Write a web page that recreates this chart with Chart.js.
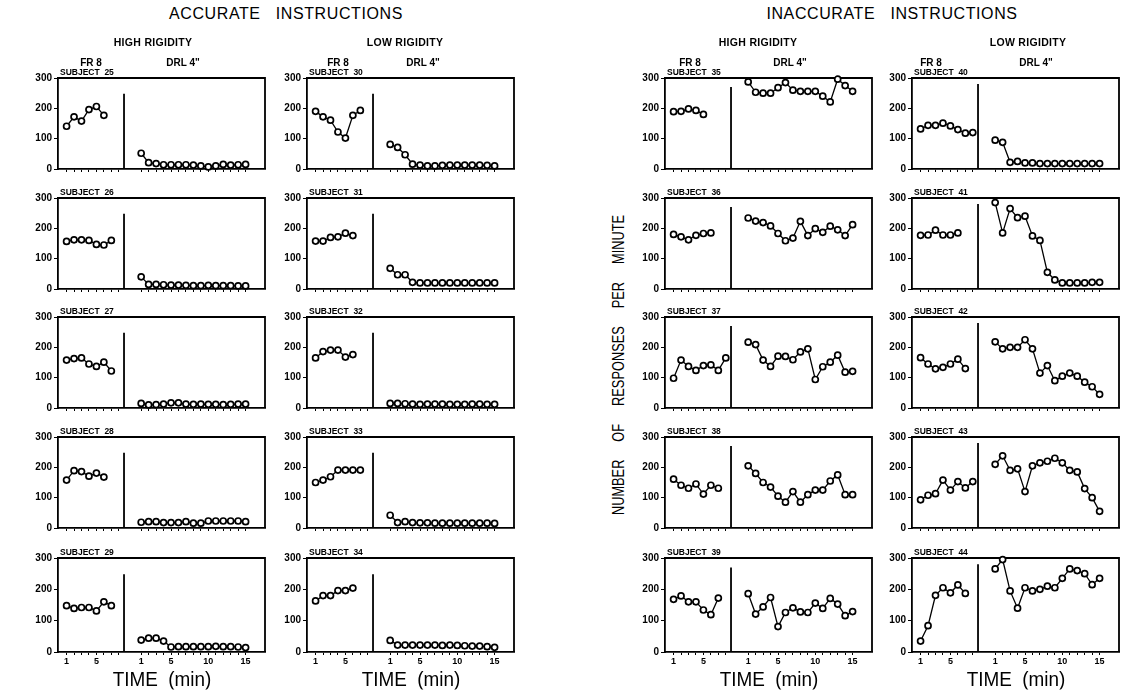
<!DOCTYPE html>
<html>
<head>
<meta charset="utf-8">
<script src="https://cdn.jsdelivr.net/npm/chart.js@4.4.1/dist/chart.umd.min.js"></script>
<style>
  body { margin: 0; background: #fff; }
  #page { position: relative; width: 1131px; height: 690px; overflow: hidden; font-family: "Liberation Sans", Arial, sans-serif; color: #000; }
  #page canvas { position: absolute; }
  .lbl { position: absolute; white-space: pre; line-height: 1; transform: translate(-50%, -50%); }
  .group { font-size: 16px; letter-spacing: 0.6px; }
  .colhead { font-size: 10.5px; font-weight: bold; letter-spacing: 0.3px; }
  .phase { font-size: 10px; font-weight: bold; }
  .subj { position: absolute; font-size: 8.5px; font-weight: bold; white-space: pre; line-height: 1; }
  .time { font-size: 21px; transform: translate(-50%, -50%) scaleX(0.9); }
  .ytitle { font-size: 16px; word-spacing: 18px; transform: translate(-50%, -50%) rotate(-90deg) scaleX(0.8); }
</style>
</head>
<body>
<div id="page"></div>
<script>
// tick labels and headings
const yTicks = [0, 100, 200, 300];
const frTicks = [1, 5];
const drlTicks = [1, 5, 10, 15];
const frLabel = 'FR 8';
const drlLabel = 'DRL 4"';
const groupTitles = ['ACCURATE   INSTRUCTIONS', 'INACCURATE   INSTRUCTIONS'];
const columnTitles = ['HIGH RIGIDITY', 'LOW RIGIDITY', 'HIGH RIGIDITY', 'LOW RIGIDITY'];
const columnSubjects = [[25, 26, 27, 28, 29], [30, 31, 32, 33, 34], [35, 36, 37, 38, 39], [40, 41, 42, 43, 44]];
const yTitle = 'NUMBER OF RESPONSES PER MINUTE';
const xTitle = 'TIME  (min)';

// responses per minute, FR 8 phase then DRL 4" phase
const fr25 = [141, 172, 158, 196, 206, 177];
const drl25 = [52, 21, 18, 14, 14, 14, 14, 13, 10, 7, 10, 15, 13, 14, 15];
const fr26 = [157, 162, 162, 160, 147, 145, 160];
const drl26 = [40, 15, 15, 14, 13, 13, 12, 11, 11, 12, 11, 11, 11, 10, 10];
const fr27 = [158, 163, 165, 145, 137, 151, 122];
const drl27 = [15, 10, 11, 13, 17, 17, 13, 12, 13, 12, 12, 11, 12, 13, 13];
const fr28 = [158, 189, 186, 171, 181, 168];
const drl28 = [19, 21, 21, 18, 18, 18, 21, 16, 16, 23, 23, 23, 23, 23, 21];
const fr29 = [148, 139, 142, 142, 131, 160, 148];
const drl29 = [38, 44, 44, 35, 16, 17, 17, 17, 17, 17, 18, 17, 17, 16, 14];

const fr30 = [190, 172, 161, 122, 102, 177, 193];
const drl30 = [81, 71, 47, 16, 13, 10, 10, 12, 13, 13, 13, 13, 13, 12, 10];
const fr31 = [158, 158, 170, 172, 184, 176];
const drl31 = [68, 47, 47, 22, 20, 20, 20, 20, 20, 20, 20, 20, 20, 20, 20];
const fr32 = [165, 186, 191, 191, 168, 176];
const drl32 = [15, 15, 14, 13, 12, 13, 13, 13, 12, 12, 12, 13, 13, 12, 12];
const fr33 = [150, 158, 169, 191, 191, 191, 191];
const drl33 = [42, 18, 21, 18, 17, 17, 16, 16, 16, 16, 16, 16, 16, 16, 15];
const fr34 = [163, 180, 180, 196, 196, 204];
const drl34 = [37, 22, 22, 22, 22, 22, 22, 21, 22, 21, 20, 19, 19, 17, 15];

const fr35 = [189, 190, 198, 193, 180];
const drl35 = [287, 253, 250, 250, 268, 285, 260, 256, 256, 256, 240, 221, 296, 275, 256];
const fr36 = [180, 172, 162, 177, 183, 185];
const drl36 = [234, 224, 219, 208, 183, 159, 168, 223, 176, 199, 187, 207, 195, 176, 212];
const fr37 = [98, 158, 137, 124, 140, 142, 124, 165];
const drl37 = [217, 209, 158, 137, 171, 170, 159, 185, 195, 94, 136, 151, 174, 118, 121];
const fr38 = [161, 141, 131, 145, 112, 141, 131];
const drl38 = [205, 180, 150, 135, 105, 85, 120, 85, 110, 125, 125, 155, 175, 110, 110];
const fr39 = [168, 179, 160, 160, 134, 119, 172];
const drl39 = [186, 121, 144, 174, 81, 126, 141, 128, 126, 156, 139, 171, 153, 116, 129];

const fr40 = [132, 144, 144, 151, 142, 130, 118, 120];
const drl40 = [95, 88, 22, 25, 20, 20, 18, 18, 18, 18, 18, 18, 18, 18, 18];
const fr41 = [177, 178, 194, 178, 178, 185];
const drl41 = [285, 185, 265, 235, 240, 175, 160, 55, 30, 20, 20, 20, 20, 22, 22];
const fr42 = [166, 145, 129, 134, 145, 161, 130];
const drl42 = [218, 195, 200, 200, 225, 195, 115, 140, 90, 105, 115, 105, 85, 70, 45];
const fr43 = [93, 108, 113, 158, 125, 153, 132, 153];
const drl43 = [210, 238, 190, 195, 120, 205, 215, 220, 230, 215, 190, 185, 130, 100, 55];
const fr44 = [35, 84, 181, 205, 189, 214, 187];
const drl44 = [265, 295, 195, 140, 205, 195, 200, 210, 205, 235, 265, 260, 250, 215, 235];

const frData = { 25: fr25, 26: fr26, 27: fr27, 28: fr28, 29: fr29, 30: fr30, 31: fr31, 32: fr32, 33: fr33, 34: fr34,
  35: fr35, 36: fr36, 37: fr37, 38: fr38, 39: fr39, 40: fr40, 41: fr41, 42: fr42, 43: fr43, 44: fr44 };
const drlData = { 25: drl25, 26: drl26, 27: drl27, 28: drl28, 29: drl29, 30: drl30, 31: drl31, 32: drl32, 33: drl33, 34: drl34,
  35: drl35, 36: drl36, 37: drl37, 38: drl38, 39: drl39, 40: drl40, 41: drl41, 42: drl42, 43: drl43, 44: drl44 };

// layout
const colX = [58, 307, 665, 912];
const rowY = [77, 197, 316, 436, 557];
const panelW = 207, panelH = 95;
const yAxisW = 34, padTop = 7, padRight = 6;
const drlOffset = 10;      // DRL minute k sits at x = k + drlOffset
const phaseBreak = 8.7;    // x of the vertical phase line
const dividerTop = [248, 248, 270, 280];
// heading offsets from each column's y axis
const headDx = [95, 98, 93, 116];
const frDx = [33, 31, 25, 19];
const drlDx = [125, 116, 125, 124];

Chart.defaults.color = '#000';
Chart.defaults.font.family = '"Liberation Sans", Arial, sans-serif';

const page = document.getElementById('page');

function addText(cls, text, x, y) {
  const d = document.createElement('div');
  d.className = 'lbl ' + cls;
  d.textContent = text;
  d.style.left = x + 'px';
  d.style.top = y + 'px';
  page.appendChild(d);
  return d;
}

// top and right edges of each panel box
const frame = {
  id: 'frame',
  beforeDatasetsDraw(chart) {
    const a = chart.chartArea, ctx = chart.ctx;
    ctx.save();
    ctx.strokeStyle = '#000';
    ctx.lineWidth = 1.8;
    ctx.beginPath();
    ctx.moveTo(a.left, a.top);
    ctx.lineTo(a.right, a.top);
    ctx.lineTo(a.right, a.bottom);
    ctx.stroke();
    ctx.restore();
  }
};

function xLabel(v) {
  if (frTicks.includes(v)) return String(v);
  if (drlTicks.includes(v - drlOffset)) return String(v - drlOffset);
  return '';
}

function drawPanel(col, row, subject) {
  const bottomRow = row === rowY.length - 1;
  const xAxisH = bottomRow ? 18 : 5;
  const w = yAxisW + panelW + padRight, h = padTop + panelH + xAxisH;
  const canvas = document.createElement('canvas');
  canvas.width = w;
  canvas.height = h;
  canvas.style.width = w + 'px';
  canvas.style.height = h + 'px';
  canvas.style.left = (colX[col] - yAxisW) + 'px';
  canvas.style.top = (rowY[row] - padTop) + 'px';
  page.appendChild(canvas);

  const fr = frData[subject], drl = drlData[subject];
  const pts = fr.map((v, i) => ({ x: i + 1, y: v }));
  pts.push({ x: phaseBreak, y: null });
  drl.forEach((v, i) => pts.push({ x: i + 1 + drlOffset, y: v }));

  const xTickVals = [];
  for (let i = 1; i <= 8; i++) xTickVals.push(i);
  for (let i = 1; i <= 15; i++) xTickVals.push(i + drlOffset);

  new Chart(canvas, {
    type: 'line',
    data: {
      datasets: [{
        data: pts,
        borderColor: '#000',
        borderWidth: 1.3,
        pointRadius: 3,
        pointBorderWidth: 1.7,
        pointBackgroundColor: '#fff',
        pointBorderColor: '#000',
        spanGaps: false,
        clip: false,
        order: 0
      }, {
        data: [{ x: phaseBreak, y: 0 }, { x: phaseBreak, y: dividerTop[col] }],
        borderColor: '#000',
        borderWidth: 1.8,
        pointRadius: 0,
        order: 1
      }]
    },
    options: {
      responsive: false,
      animation: false,
      devicePixelRatio: 1,
      layout: { padding: { top: padTop, right: padRight, left: 0, bottom: 0 } },
      plugins: { legend: { display: false }, tooltip: { enabled: false } },
      scales: {
        x: {
          type: 'linear',
          min: -0.15,
          max: 27.6,
          afterBuildTicks: s => { s.ticks = xTickVals.map(v => ({ value: v })); },
          afterFit: s => { s.height = xAxisH; },
          ticks: {
            autoSkip: false,
            maxRotation: 0,
            padding: 1,
            font: { size: 9, weight: 'bold' },
            callback: v => bottomRow ? xLabel(v) : ''
          },
          grid: { drawOnChartArea: false, drawTicks: true, tickLength: 3, color: '#000', lineWidth: 1 },
          border: { color: '#000', width: 1.8 }
        },
        y: {
          min: 0,
          max: 300,
          afterBuildTicks: s => { s.ticks = yTicks.map(v => ({ value: v })); },
          afterFit: s => { s.width = yAxisW; },
          ticks: { padding: 2, font: { size: 10, weight: 'bold' } },
          grid: { drawOnChartArea: false, drawTicks: true, tickLength: 4, color: '#000', lineWidth: 1 },
          border: { color: '#000', width: 1.8 }
        }
      }
    },
    plugins: [frame]
  });

  const s = document.createElement('div');
  s.className = 'subj';
  s.textContent = 'SUBJECT  ' + subject;
  s.style.left = (colX[col] + 2) + 'px';
  s.style.top = (rowY[row] - 9) + 'px';
  page.appendChild(s);
}

columnSubjects.forEach((subs, col) => {
  subs.forEach((subject, row) => drawPanel(col, row, subject));
  addText('colhead', columnTitles[col], colX[col] + headDx[col], 42);
  addText('phase', frLabel, colX[col] + frDx[col], 63);
  addText('phase', drlLabel, colX[col] + drlDx[col], 63);
  addText('time', xTitle, colX[col] + panelW / 2, 678);
});

addText('group', groupTitles[0], (colX[0] + colX[1] + panelW) / 2, 14);
addText('group', groupTitles[1], (colX[2] + colX[3] + panelW) / 2, 14);
addText('ytitle', yTitle, 619, 365);
</script>
</body>
</html>
